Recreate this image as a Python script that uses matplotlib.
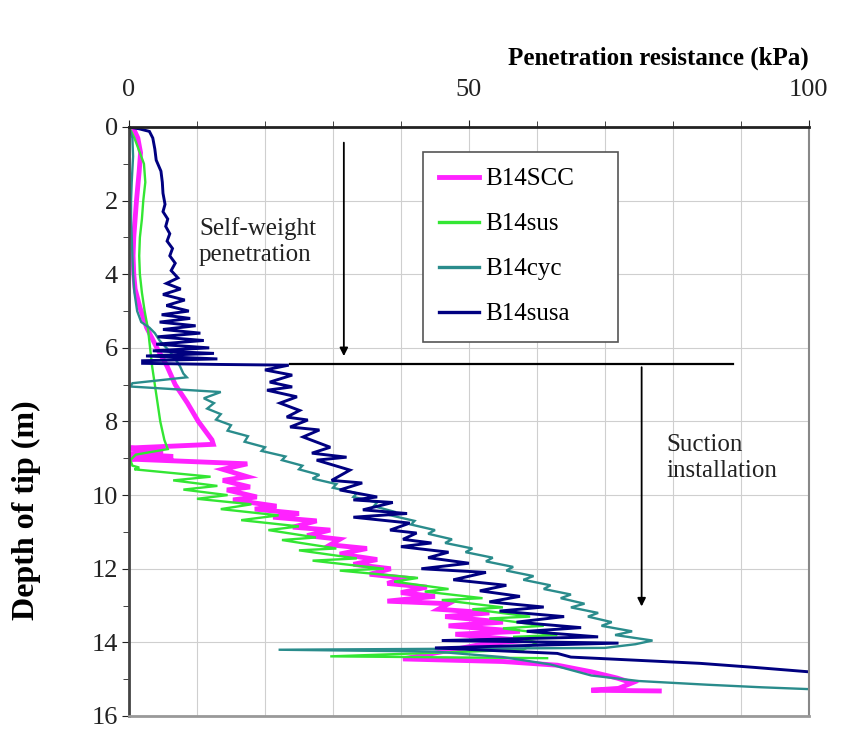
import matplotlib
matplotlib.use("Agg")
import matplotlib.pyplot as plt
from matplotlib.ticker import MultipleLocator

plt.rcParams["font.family"] = ["Liberation Serif", "DejaVu Serif"]

# ------------------------------
# Data (depth m, resistance kPa)
# ------------------------------
scc_depth = [0.00, 0.10, 0.30, 0.70, 1.20, 1.60, 2.00, 2.50, 3.00, 3.50, 4.00, 4.40,
             4.90, 5.45, 6.00, 6.50, 7.00, 7.50, 8.00, 8.50, 8.62, 8.72, 8.80, 8.88,
             8.95, 9.02, 9.15, 9.30, 9.50, 9.60, 9.78, 9.86, 10.05, 10.13, 10.30, 10.38,
             10.50, 10.60, 10.70, 10.87, 10.95, 11.10, 11.20, 11.35, 11.45, 11.60, 11.75,
             11.88, 12.00, 12.15, 12.25, 12.40, 12.50, 12.65, 12.75, 12.88, 12.95, 13.10,
             13.20, 13.30, 13.45, 13.55, 13.70, 13.78, 13.95, 14.05, 14.45, 14.52, 14.62,
             14.80, 14.97, 15.10, 15.25, 15.30, 15.32]
scc_kpa = [0.0, 0.8, 1.3, 1.7, 1.5, 1.3, 1.1, 0.9, 0.7, 0.6, 0.7, 0.9,
           1.6, 2.6, 4.1, 5.6, 6.8, 8.6, 10.2, 12.2, 12.4, 0.2, 5.0, 0.0,
           6.5, 0.0, 17.4, 13.8, 17.4, 13.8, 17.8, 14.4, 18.8, 15.3, 21.7, 18.5,
           25.0, 21.2, 27.6, 24.1, 29.6, 26.2, 31.0, 29.6, 35.0, 31.0, 36.5,
           33.0, 38.5, 35.4, 40.5, 38.0, 43.8, 40.0, 45.0, 38.0, 47.0, 45.5,
           53.0, 46.5, 55.0, 47.0, 57.5, 48.0, 58.0, 52.0, 40.3, 55.0, 63.0,
           68.0, 71.8, 74.0, 72.0, 68.0, 78.0]

sus_depth = [0.00, 0.30, 0.70, 1.00, 1.50, 2.00, 2.50, 3.00, 3.50, 4.00, 4.50, 5.00,
             5.50, 6.00, 6.50, 7.00, 7.50, 8.00, 8.50, 8.75, 8.90, 9.05, 9.20, 9.25,
             9.30, 9.50, 9.60, 9.75, 9.85, 10.00, 10.10, 10.25, 10.38, 10.55, 10.68,
             10.85, 10.95, 11.15, 11.22, 11.45, 11.50, 11.72, 11.78, 12.00, 12.05,
             12.25, 12.35, 12.55, 12.62, 12.80, 12.85, 13.05, 13.10, 13.30, 13.35,
             13.55, 13.62, 13.80, 13.85, 14.00, 14.20, 14.38, 14.43]
sus_kpa = [0.0, 0.8, 1.6, 2.2, 2.4, 2.1, 1.9, 1.6, 1.5, 1.6, 1.9, 2.3,
           2.8, 3.1, 3.4, 3.8, 4.2, 4.6, 5.2, 5.7, 1.0, 0.2, 0.5, 1.5,
           0.8, 12.0, 6.5, 13.0, 8.0, 14.5, 10.0, 18.0, 13.5, 22.0, 16.5,
           25.0, 20.5, 27.5, 22.5, 30.5, 25.0, 33.5, 27.0, 37.5, 31.0,
           42.5, 39.0, 47.0, 43.5, 52.0, 46.0, 55.0, 50.5, 59.0, 53.0,
           61.0, 55.0, 63.0, 56.5, 60.0, 58.0, 29.6, 61.5]

cyc_depth = [0.00, 0.30, 0.80, 1.50, 2.00, 2.50, 3.00, 3.50, 4.00, 4.50, 5.00, 5.30,
             5.45, 5.60, 5.80, 6.00, 6.10, 6.30, 6.50, 6.70, 6.80, 6.96, 7.05, 7.20,
             7.37, 7.50, 7.65, 7.80, 7.95, 8.10, 8.25, 8.40, 8.55, 8.70, 8.80, 8.95,
             9.05, 9.20, 9.30, 9.45, 9.55, 9.70, 9.80, 9.95, 10.05, 10.20, 10.30, 10.45,
             10.55, 10.70, 10.80, 10.95, 11.05, 11.20, 11.30, 11.45, 11.55, 11.70, 11.80,
             11.95, 12.05, 12.20, 12.30, 12.45, 12.55, 12.70, 12.80, 12.95, 13.05, 13.20,
             13.30, 13.45, 13.55, 13.70, 13.80, 13.95, 14.05, 14.15, 14.20, 14.25, 14.40,
             14.60, 14.90, 15.05, 15.15, 15.22, 15.27]
cyc_kpa = [0.0, 0.5, 0.6, 0.4, 0.3, 0.3, 0.4, 0.5, 0.6, 0.8, 1.2, 1.8,
           3.0, 3.8, 4.5, 5.5, 6.0, 6.8, 7.5, 8.0, 8.5, 0.5, 0.2, 13.5,
           11.0, 12.5, 11.5, 13.5, 12.8, 15.0, 14.5, 17.5, 17.0, 20.0, 19.5, 23.0,
           22.5, 25.5, 25.0, 28.0, 27.0, 30.5, 30.0, 33.5, 33.0, 36.5, 36.0, 39.0,
           38.5, 42.0, 41.5, 45.0, 44.0, 47.5, 46.5, 50.5, 49.5, 53.5, 52.5,
           56.5, 55.5, 59.5, 58.0, 62.0, 61.0, 65.0, 63.5, 67.0, 65.0, 69.0,
           67.5, 71.0, 69.5, 74.0, 71.5, 77.0, 74.5, 70.0, 22.0, 45.0, 55.0,
           62.0, 68.0, 75.0, 85.0, 93.0, 100.0]

susa_depth = [0.00, 0.05, 0.12, 0.30, 0.60, 0.90, 1.20, 1.50, 1.80, 2.10, 2.30, 2.50,
              2.70, 2.90, 3.10, 3.30, 3.50, 3.70, 3.90, 4.10, 4.25, 4.40, 4.55, 4.70,
              4.85, 5.00, 5.10, 5.20, 5.30, 5.40, 5.50, 5.60, 5.70, 5.80, 5.90, 6.00,
              6.08, 6.15, 6.22, 6.30, 6.35, 6.42, 6.45, 6.47, 6.60, 6.74, 6.93, 7.06,
              7.15, 7.33, 7.50, 7.70, 7.88, 7.96, 8.15, 8.23, 8.42, 8.70, 8.86, 8.97,
              9.05, 9.32, 9.60, 9.67, 9.86, 10.05, 10.13, 10.20, 10.40, 10.50, 10.60,
              10.76, 10.95, 11.03, 11.20, 11.30, 11.40, 11.55, 11.70, 11.85, 12.00,
              12.10, 12.30, 12.45, 12.60, 12.75, 12.90, 13.04, 13.15, 13.30, 13.45,
              13.60, 13.70, 13.85, 13.95, 14.02, 14.15, 14.30, 14.40, 14.48, 14.57,
              14.68, 14.80]
susa_kpa = [0.0, 1.5, 3.0, 3.5, 3.8, 4.0, 4.7, 4.9, 5.0, 5.3, 5.0, 5.7,
            5.4, 6.0, 5.6, 6.4, 6.0, 6.8, 6.2, 7.2, 5.5, 7.6, 5.0, 8.2,
            5.5, 8.8, 4.8, 9.0, 4.5, 9.8, 5.0, 10.5, 4.2, 11.0, 4.0, 11.8,
            3.5, 12.5, 2.5, 13.0, 2.0, 2.0, 13.0, 23.5, 20.0, 24.0, 20.7, 24.0,
            20.3, 24.7, 22.2, 25.1, 23.2, 26.3, 23.7, 28.0, 25.6, 29.6, 26.9, 32.0,
            27.6, 32.5, 29.8, 34.3, 31.0, 36.5, 33.0, 38.8, 34.4, 40.9, 33.0,
            41.3, 38.4, 42.3, 40.3, 44.5, 40.0, 47.0, 44.0, 50.0, 43.0,
            52.5, 47.7, 55.5, 51.6, 57.5, 53.0, 61.0, 54.5, 64.0, 57.0,
            66.5, 58.5, 69.0, 46.0, 72.0, 45.0, 63.0, 65.0, 74.0, 84.0,
            92.0, 100.0]

series = [
    ("B14SCC", scc_kpa, scc_depth, "#ff22ff", 3.5),
    ("B14sus", sus_kpa, sus_depth, "#33e633", 1.7),
    ("B14cyc", cyc_kpa, cyc_depth, "#2a8c8c", 1.7),
    ("B14susa", susa_kpa, susa_depth, "#000080", 2.1),
]


def main():
    fig = plt.figure(figsize=(8.47, 7.37), dpi=100)
    ax = fig.add_axes([0.1523, 0.0285, 0.8027, 0.7992])

    for name, x, y, color, lw in series:
        ax.plot(x, y, color=color, lw=lw, label=name, solid_joinstyle="miter")

    ax.set_xlim(0, 100)
    ax.set_ylim(16, 0)

    ax.xaxis.tick_top()
    ax.xaxis.set_label_position("top")
    ax.xaxis.set_major_locator(MultipleLocator(50))
    ax.xaxis.set_minor_locator(MultipleLocator(10))
    ax.yaxis.set_major_locator(MultipleLocator(2))
    ax.yaxis.set_minor_locator(MultipleLocator(1))
    ax.tick_params(which="both", direction="out", labelsize=19, colors="#222222")
    ax.tick_params(axis="x", which="major", length=5, pad=14)
    ax.tick_params(axis="y", which="major", length=5, pad=3)
    ax.tick_params(which="minor", length=4)

    ax.grid(which="minor", axis="x", color="#cfcfcf", lw=0.8)
    ax.grid(which="major", axis="both", color="#cfcfcf", lw=0.8)
    ax.set_axisbelow(True)

    ax.spines["top"].set_linewidth(2.0)
    ax.spines["top"].set_color("#222222")
    ax.spines["left"].set_linewidth(2.0)
    ax.spines["left"].set_color("#444444")
    ax.spines["right"].set_color("#888888")
    ax.spines["right"].set_linewidth(1.5)
    ax.spines["bottom"].set_color("#999999")
    ax.spines["bottom"].set_linewidth(2.0)

    ax.set_xlabel("Penetration resistance (kPa)", fontsize=18, fontweight="bold",
                  loc="right", labelpad=10)
    ax.set_ylabel("Depth of tip (m)", fontsize=23, fontweight="bold")
    ax.yaxis.set_label_coords(-0.13, 0.35)

    # annotation lines and arrows
    ax.annotate("", xy=(31.6, 6.3), xytext=(31.6, 0.35),
                arrowprops=dict(arrowstyle="-|>", color="black", lw=1.3,
                                mutation_scale=12))
    ax.plot([23.7, 88.8], [6.45, 6.45], color="black", lw=1.6)
    ax.annotate("", xy=(75.4, 13.1), xytext=(75.4, 6.45),
                arrowprops=dict(arrowstyle="-|>", color="black", lw=1.3,
                                mutation_scale=12))

    ax.text(10.3, 2.45, "Self-weight\npenetration", fontsize=18, va="top",
            ha="left", linespacing=1.2, color="#222222")
    ax.text(79.0, 8.35, "Suction\ninstallation", fontsize=18, va="top",
            ha="left", linespacing=1.2, color="#222222")

    leg = ax.legend(loc="upper left", bbox_to_anchor=(0.432, 0.647, 0.287, 0.311),
                    mode="expand", fontsize=18, frameon=True, fancybox=False,
                    edgecolor="#555555", framealpha=1.0, handlelength=1.6,
                    handletextpad=0.25, labelspacing=0.9, borderpad=0.65,
                    borderaxespad=0.0)
    leg.get_frame().set_linewidth(1.2)
    for line in leg.get_lines():
        if line.get_label() != "B14SCC":
            line.set_linewidth(2.4)

    fig.savefig("out.png", dpi=100)


if __name__ == "__main__":
    main()
